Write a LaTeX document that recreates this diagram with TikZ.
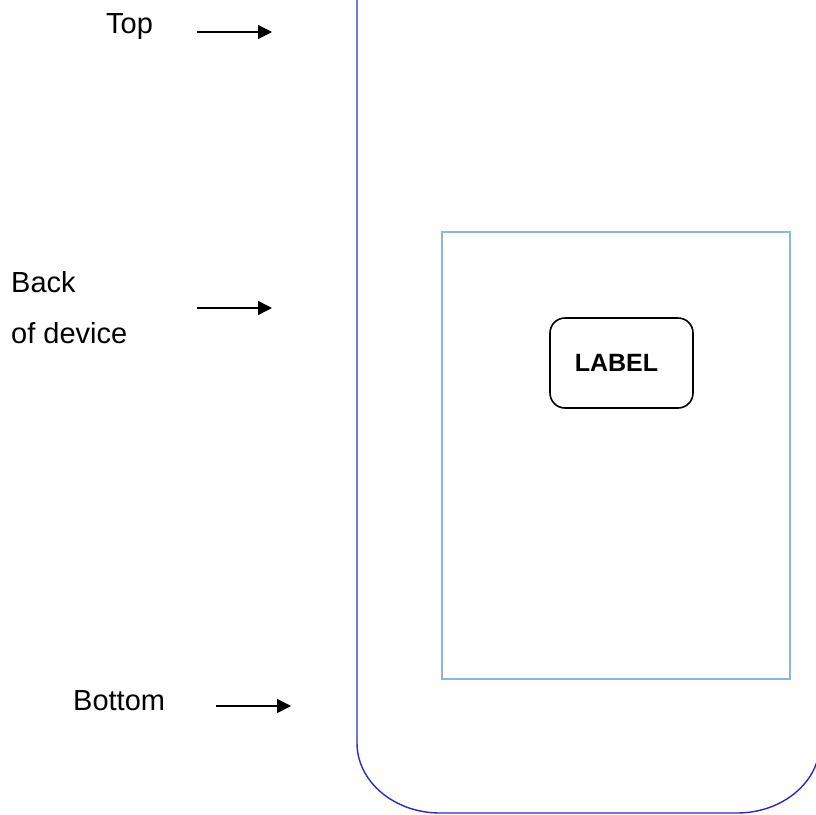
\documentclass[tikz,border=0pt]{standalone}
\usepackage{fontspec}
\setmainfont{Liberation Sans}
\usepackage{tikz}
\usetikzlibrary{arrows.meta}
\definecolor{shell}{RGB}{40,40,205}
\definecolor{panel}{HTML}{8EB4E3}
\tikzset{pointer/.style={black,line width=1.5pt,-{Triangle[length=14pt,width=14pt]}}}
\tikzset{tagbox/.style={draw=black,line width=1.6pt,rectangle,rounded corners=15pt,minimum width=143pt,minimum height=90pt}}

\begin{document}
\begin{tikzpicture}[x=1pt,y=-1pt,
    every node/.style = {inner sep=0pt, font=\fontsize{29}{51}\selectfont}]
  \useasboundingbox (0,0) rectangle (816,814);
  \clip (0,0) rectangle (816,814);
  % device outline
  \draw[shell,line width=1.4pt] (357,-10) -- (357,743)
      .. controls (357,781.6) and (394.2,813) .. (440,813)
      -- (737,813)
      .. controls (782.8,813) and (820,781.6) .. (820,743) -- (820,-10);
  \draw[panel,line width=1.3pt] (442,232) rectangle (790,679);
  % label on the back
  \node[tagbox] (tag) at (621.5,363) {};
  \node[font=\fontsize{25}{30}\selectfont\bfseries] (tagtext) at (616.5,363) {LABEL};
  % side texts
  \node[anchor=base west] (top) at (106,33) {Top};
  \node[anchor=north west, align=left] (back) at (11,271) {Back\\of device};
  \node[anchor=base west] (bottom) at (73,710) {Bottom};
  % arrows
  \coordinate (topfrom) at (197,32);
  \coordinate (topto) at (272,32);
  \coordinate (backfrom) at (197,308);
  \coordinate (backto) at (272,308);
  \coordinate (bottomfrom) at (216,706);
  \coordinate (bottomto) at (291,706);
  \draw[pointer] (topfrom) -- (topto);
  \draw[pointer] (backfrom) -- (backto);
  \draw[pointer] (bottomfrom) -- (bottomto);
\end{tikzpicture}
\end{document}
